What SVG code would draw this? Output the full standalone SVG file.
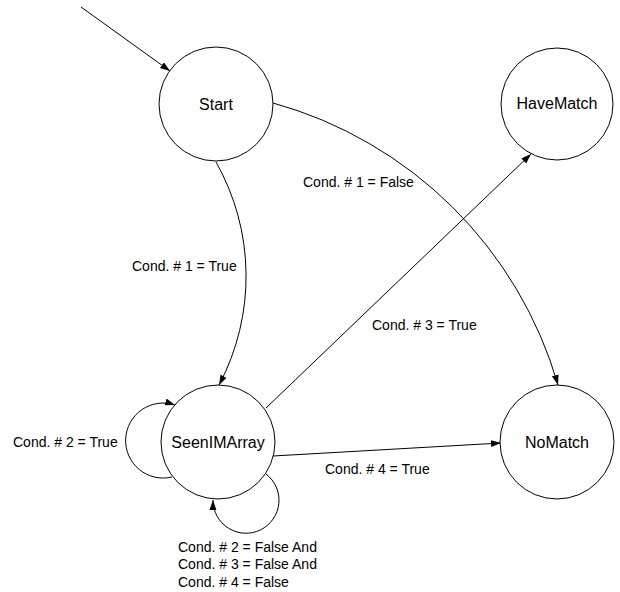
<svg xmlns="http://www.w3.org/2000/svg" width="620" height="592" viewBox="0 0 620 592">
<style>
.node{fill:#fff;stroke:#000;stroke-width:1}
.nt{font-family:"Liberation Sans",Arial,sans-serif;font-size:16px;fill:#000;text-anchor:middle}
.lbl{font-family:"Liberation Sans",Arial,sans-serif;font-size:14px;fill:#000}
.edge{fill:none;stroke:#000;stroke-width:1;marker-end:url(#arr)}
</style>
<defs>
<marker id="arr" markerUnits="userSpaceOnUse" markerWidth="11" markerHeight="8" refX="10" refY="3.5" orient="auto">
<path d="M0,0 L10,3.5 L0,7 z" fill="#000"/>
</marker>
</defs>
<rect width="620" height="592" fill="#fff"/>
<g id="connectors">
<path class="edge" d="M81,7 L170,71"/>
<path class="edge" d="M216,162 A232,232 0 0 1 219,385"/>
<path class="edge" d="M273,103 A411,411 0 0 1 558,385"/>
<path class="edge" d="M266,408 L531,154"/>
<path class="edge" d="M273,456 L501,443"/>
<path class="edge" d="M172,477 A37.5,37.5 0 1 1 175,405"/>
<path class="edge" d="M266,474 A33,33 0 1 1 213,500"/>
</g>
<g id="labels">
<text class="lbl" x="132" y="271">Cond. # 1 = True</text>
<text class="lbl" x="303" y="187">Cond. # 1 = False</text>
<text class="lbl" x="372" y="330">Cond. # 3 = True</text>
<text class="lbl" x="325" y="474">Cond. # 4 = True</text>
<text class="lbl" x="13" y="447">Cond. # 2 = True</text>
<text class="lbl" x="178" y="552">Cond. # 2 = False And</text>
<text class="lbl" x="178" y="569">Cond. # 3 = False And</text>
<text class="lbl" x="178" y="587">Cond. # 4 = False</text>
</g>
<g id="node-start">
<circle class="node" cx="216" cy="104" r="57"/>
<text class="nt" x="216" y="110">Start</text>
</g>
<g id="node-havematch">
<circle class="node" cx="557" cy="104" r="56"/>
<text class="nt" x="557" y="109">HaveMatch</text>
</g>
<g id="node-seenimarray">
<circle class="node" cx="218" cy="442" r="57"/>
<text class="nt" x="218" y="448">SeenIMArray</text>
</g>
<g id="node-nomatch">
<circle class="node" cx="557" cy="442" r="57"/>
<text class="nt" x="557" y="448">NoMatch</text>
</g>
</svg>
